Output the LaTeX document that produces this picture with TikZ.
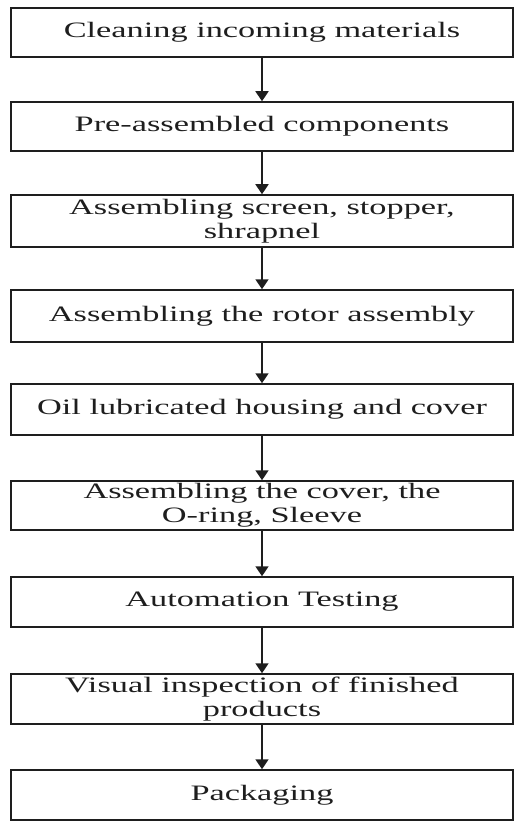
\documentclass[tikz,border=0pt]{standalone}
\usepackage{fontspec}
\setmainfont{Liberation Serif}[FakeStretch=1.56]
\usetikzlibrary{arrows.meta}
\definecolor{ink}{HTML}{1E1E1E}
\begin{document}
\begin{tikzpicture}[x=1pt,y=1pt,
  stepbox/.style={draw=ink, line width=1.5pt, rectangle, minimum width=502pt, inner sep=0pt,
    align=center, text=ink, font=\fontsize{22}{24}\selectfont},
  flow/.style={draw=ink, line width=1.5pt, -{Triangle[width=13pt,length=10pt]}}]
\useasboundingbox (0,0) rectangle (515,-821);
\node[stepbox, minimum height=49pt] (b1) at (262,-32.5) {Cleaning incoming materials};
\node[stepbox, minimum height=49pt] (b2) at (262,-126.5) {Pre-assembled components};
\node[stepbox, minimum height=52pt] (b3) at (262,-221) {Assembling screen, stopper,\\shrapnel};
\node[stepbox, minimum height=52pt] (b4) at (262,-316) {Assembling the rotor assembly};
\node[stepbox, minimum height=51pt] (b5) at (262,-409.5) {Oil lubricated housing and cover};
\node[stepbox, minimum height=49pt] (b6) at (262,-505.5) {Assembling the cover, the\\O-ring, Sleeve};
\node[stepbox, minimum height=50pt] (b7) at (262,-602) {Automation Testing};
\node[stepbox, minimum height=50pt] (b8) at (262,-699) {Visual inspection of finished\\products};
\node[stepbox, minimum height=50pt] (b9) at (262,-795) {Packaging};
\foreach \a/\b in {b1/b2,b2/b3,b3/b4,b4/b5,b5/b6,b6/b7,b7/b8,b8/b9}
  \draw[flow] (\a.south) -- (\b.north);
\end{tikzpicture}
\end{document}
